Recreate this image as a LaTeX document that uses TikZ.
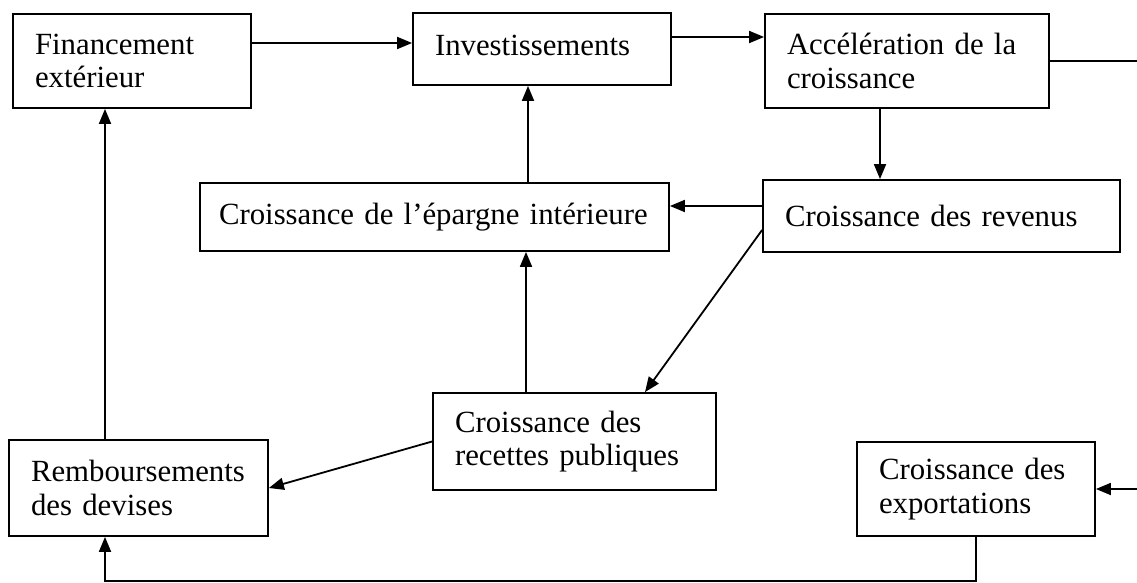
\documentclass[tikz,border=0pt]{standalone}
\usepackage{fontspec}
\setmainfont{Liberation Serif}
\usetikzlibrary{arrows.meta}
\begin{document}
\begin{tikzpicture}[x=1pt,y=-1pt,box/.style={draw,line width=1.8pt,inner xsep=22pt,inner ysep=0pt,align=left,font=\fontsize{30.8}{33.5}\selectfont},link/.style={-{Triangle[length=15pt,width=12pt]},line width=1.8pt}]
        \useasboundingbox (0,0) rectangle (1137,583);
        \node[box,text width=194pt,minimum height=94pt] (fin) at (132,61) {Financement\\extérieur};
        \node[box,text width=214pt,minimum height=72pt,text depth=8pt] (inv) at (542,49) {Investissements};
        \node[box,text width=240pt,minimum height=94pt] (acc) at (907,61) {Accélération de la\\croissance};
        \node[box,text width=431pt,inner xsep=19pt,minimum height=68pt] (epar) at (434.5,217) {Croissance de l’épargne intérieure};
        \node[box,text width=313pt,minimum height=72pt] (rev) at (941.5,216) {Croissance des revenus};
        \node[box,text width=239pt,minimum height=97pt] (rec) at (574.5,441.5) {Croissance des\\recettes publiques};
        \node[box,text width=215pt,minimum height=96pt] (remb) at (138.5,488) {Remboursements\\des devises};
        \node[box,text width=194pt,minimum height=94pt] (exp) at (976,489) {Croissance des\\exportations};
        \coordinate (outR) at (1137,61);
        \coordinate (inR) at (1137,489);
        \coordinate (bot) at (0,581);
        \coordinate (a1) at ([xshift=-27pt]acc.south);
        \coordinate (r1) at ([yshift=10pt]rev.west);
        \coordinate (e1) at ([xshift=93.5pt]epar.north);
        \coordinate (c1) at ([xshift=-48.5pt]rec.north);
        \coordinate (m1) at ([xshift=-33.5pt]remb.north);
        \coordinate (m2) at ([xshift=-33.5pt]remb.south);
        \draw[link] ([yshift=18pt]fin.east)--([yshift=6pt]inv.west);
        \draw[link] ([yshift=12pt]inv.east)--([yshift=24pt]acc.west);
        \draw[line width=1.8pt] (acc.east)--(outR);
        \draw[link] (a1)--(a1 |- rev.north);
        \draw[link] (r1)--(r1 -| epar.east);
        \draw[link] (e1)--(e1 |- inv.south);
        \draw[link] ([yshift=-14pt]rev.west)--([xshift=70.5pt]rec.north);
        \draw[link] (c1)--(c1 |- epar.south);
        \draw[link] (rec.west)--(remb.east);
        \draw[link] (m1)--(m1 |- fin.south);
        \draw[link] (exp.south)--(exp.south |- bot)-|(m2);
        \draw[link] (inR)--(exp.east);
      \end{tikzpicture}
\end{document}
